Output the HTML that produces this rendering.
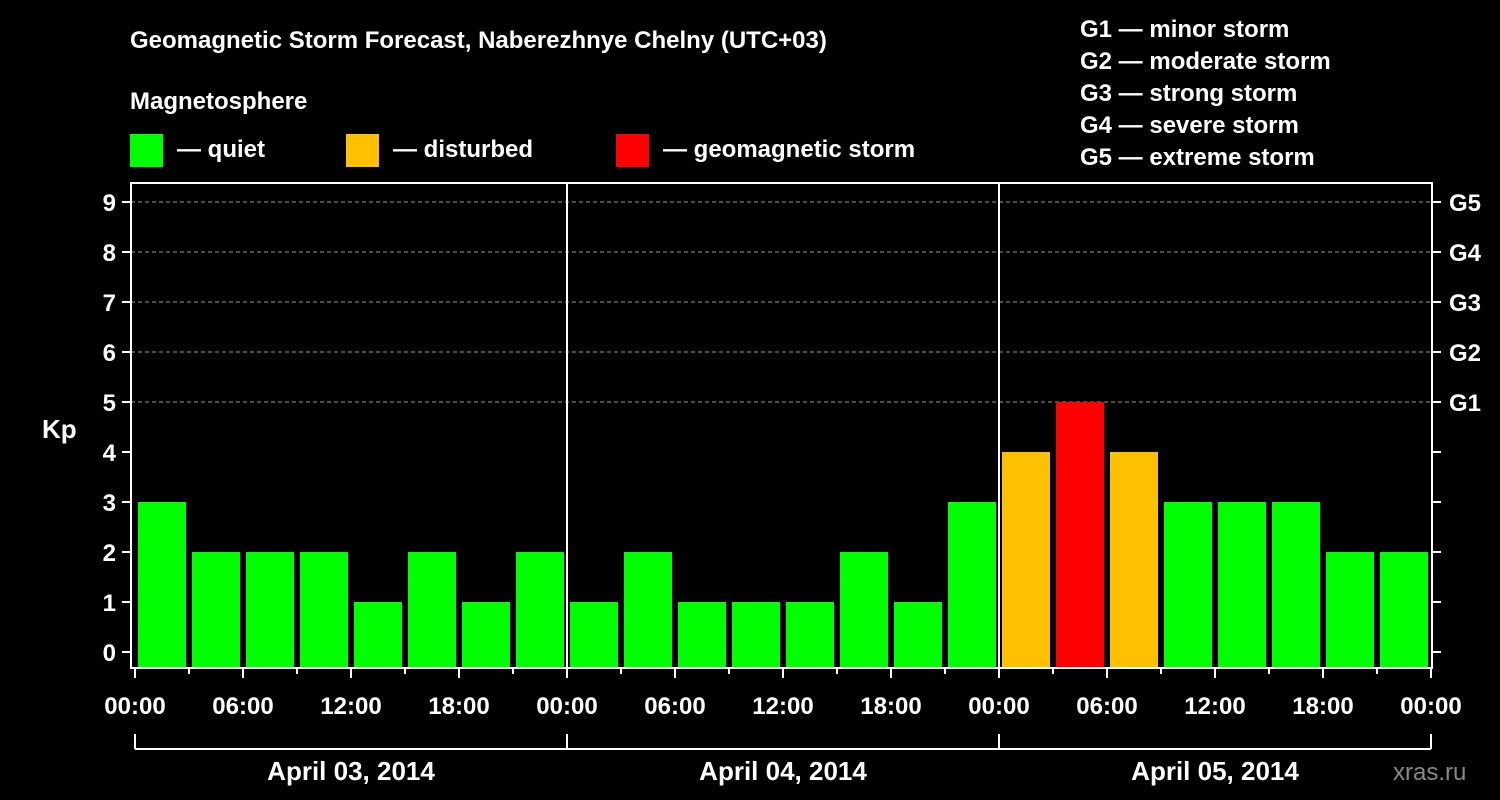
<!DOCTYPE html>
<html><head><meta charset="utf-8"><style>
html,body{margin:0;padding:0;background:#000;}
svg{display:block;font-family:"Liberation Sans",Arial,sans-serif;font-weight:bold;}
</style></head><body>
<svg id="chart" width="1500" height="800" viewBox="0 0 1500 800">
<text x="130" y="48" fill="#fff" font-size="24">Geomagnetic Storm Forecast, Naberezhnye Chelny (UTC+03)</text>
<text x="130" y="109" fill="#fff" font-size="24">Magnetosphere</text>
<g>
<rect x="130" y="134" width="33" height="33" fill="#00ff00"/>
<text x="177" y="157" fill="#fff" font-size="24">— quiet</text>
<rect x="346" y="134" width="33" height="33" fill="#ffc000"/>
<text x="393" y="157" fill="#fff" font-size="24">— disturbed</text>
<rect x="616" y="134" width="33" height="33" fill="#ff0000"/>
<text x="663" y="157" fill="#fff" font-size="24">— geomagnetic storm</text>
</g>
<g fill="#fff" font-size="24">
<text x="1080" y="37">G1 — minor storm</text>
<text x="1080" y="69">G2 — moderate storm</text>
<text x="1080" y="101">G3 — strong storm</text>
<text x="1080" y="133">G4 — severe storm</text>
<text x="1080" y="165">G5 — extreme storm</text>
</g>
<text x="42" y="438" fill="#fff" font-size="26">Kp</text>
<text x="1393" y="780" fill="#888" font-size="24" font-weight="normal">xras.ru</text>
<g id="grid"></g><g id="bars"></g><g id="axes"></g>
</svg>
<script>
const days = ["April 03, 2014","April 04, 2014","April 05, 2014"];
const kpValues = [3,2,2,2,1,2,1,2, 1,2,1,1,1,2,1,3, 4,5,4,3,3,3,2,2];
const yTicks = [0,1,2,3,4,5,6,7,8,9];
const gLabels = ["G1","G2","G3","G4","G5"];
const gLevels = [5,6,7,8,9];
const timeLabels = ["00:00","06:00","12:00","18:00"];

const NS="http://www.w3.org/2000/svg";
const X0=135, DAYW=432, PL=131, PR=1432, PT=183, PB=668;
const y = v => 652 - v*50;
const xh = h => X0 + h*(DAYW/24);
function mk(tag, attrs, parent){const e=document.createElementNS(NS,tag);for(const k in attrs)e.setAttribute(k,attrs[k]);document.getElementById(parent).appendChild(e);return e;}
function color(v){return v>=5?"#ff0000":(v>=4?"#ffc000":"#00ff00");}

// grid lines
yTicks.filter(v=>v>=5).forEach(v=>{
  const l=mk("line",{x1:PL,x2:PR,y1:y(v),y2:y(v),stroke:"#999","stroke-dasharray":"4,3","stroke-width":1},"grid");
  
  
});
// bars
kpValues.forEach((v,i)=>{
  const r=mk("rect",{x:xh(i*3)+3,y:y(v),width:48,height:PB-y(v),fill:color(v)},"bars");
  
  
});
// frame
const fr=mk("rect",{x:PL,y:PT,width:PR-PL,height:PB-PT,fill:"none",stroke:"#fff","stroke-width":2},"axes");


// day separators
for(let d=1;d<days.length;d++){
  const l=mk("line",{x1:X0+d*DAYW,x2:X0+d*DAYW,y1:PT,y2:PB,stroke:"#fff","stroke-width":2},"axes");
  
  
}
// y ticks
yTicks.forEach(v=>{
  const t=mk("line",{x1:122,x2:PL,y1:y(v),y2:y(v),stroke:"#fff","stroke-width":2},"axes");
  
  
  const t2=mk("line",{x1:PR,x2:1441,y1:y(v),y2:y(v),stroke:"#fff","stroke-width":2},"axes");
  
  
  const tx=mk("text",{x:116,y:y(v)+9,fill:"#fff","font-size":24,"text-anchor":"end"},"axes");
  tx.textContent=v;
  
  
});
gLabels.forEach((g,i)=>{
  const tx=mk("text",{x:1449,y:y(gLevels[i])+9,fill:"#fff","font-size":24},"axes");
  tx.textContent=g;
  
  
});
// x ticks
for(let h=0;h<=24*days.length;h+=3){
  const major=h%6===0;
  const t=mk("line",{x1:xh(h),x2:xh(h),y1:PB,y2:major?678:674,stroke:"#fff","stroke-width":2},"axes");
  
  
  if(major){
    const tx=mk("text",{x:xh(h),y:714,fill:"#fff","font-size":24,"text-anchor":"middle"},"axes");
    tx.textContent=timeLabels[(h/6)%4];
    
    
  }
}
// day brackets
const br=mk("line",{x1:X0,x2:X0+days.length*DAYW,y1:749,y2:749,stroke:"#fff","stroke-width":2},"axes");


for(let d=0;d<=days.length;d++){
  const l=mk("line",{x1:X0+d*DAYW,x2:X0+d*DAYW,y1:734,y2:749,stroke:"#fff","stroke-width":2},"axes");
  
  
}
days.forEach((d,i)=>{
  const tx=mk("text",{x:X0+i*DAYW+DAYW/2,y:780,fill:"#fff","font-size":26,"text-anchor":"middle"},"axes");
  tx.textContent=d;
  
  
});
</script>
</body></html>
